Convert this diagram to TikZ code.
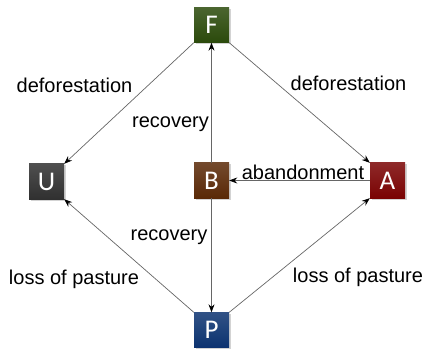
\documentclass[tikz,border=0pt]{standalone}
\usepackage{fontspec}
\setmainfont{Liberation Sans}
\newfontfamily\boxfont{Carlito}
\usetikzlibrary{arrows.meta,shadows}
\definecolor{cF}{HTML}{2B4A0B}
\definecolor{cU}{HTML}{303030}
\definecolor{cB}{HTML}{5A2907}
\definecolor{cA}{HTML}{7A0303}
\definecolor{cP}{HTML}{0C3370}
\tikzset{
  st/.style={minimum width=35pt,minimum height=35pt,inner sep=0pt,text=white,
    font=\boxfont\fontsize{27}{27}\selectfont,draw=none,
    drop shadow={shadow xshift=1.5pt,shadow yshift=-1.5pt,opacity=0.35}},
  conn/.style={draw=black!60,line width=0.7pt,-{Stealth[length=8pt,width=6pt,color=black]}},
  lbl/.style={font=\fontsize{20}{20}\selectfont,text=black,inner sep=1pt}
}
\begin{document}
\begin{tikzpicture}[x=1pt,y=1pt]
\useasboundingbox (0,0) rectangle (425,351);
\node[st,top color=cF!85!white,bottom color=cF] (F) at (211.5,326) {F};
\node[st,top color=cU!85!white,bottom color=cU] (U) at (46.5,169.5) {U};
\node[st,top color=cB!85!white,bottom color=cB] (B) at (211.5,170.5) {B};
\node[st,top color=cA!85!white,bottom color=cA] (A) at (387.5,170.5) {A};
\node[st,top color=cP!85!white,bottom color=cP] (P) at (211.5,21) {P};
\draw[conn] (F.south west) -- (U.north east);
\draw[conn] (F.south east) -- (A.north west);
\draw[conn] (B) -- (F);
\draw[conn] (B) -- (P);
\draw[conn] (A) -- (B);
\draw[conn] (P.north west) -- (U.south east);
\draw[conn] (P.north east) -- (A.south west);
\node[lbl] (l1) at (74.5,266) {deforestation};
\node[lbl] (l2) at (348.5,267.5) {deforestation};
\node[lbl] (l3) at (170.5,227) {recovery};
\node[lbl] (l4) at (169,114) {recovery};
\node[lbl] (l5) at (303,178.5) {abandonment};
\node[lbl] (l6) at (74,72) {loss of pasture};
\node[lbl] (l7) at (358,73.5) {loss of pasture};
\end{tikzpicture}
\end{document}
